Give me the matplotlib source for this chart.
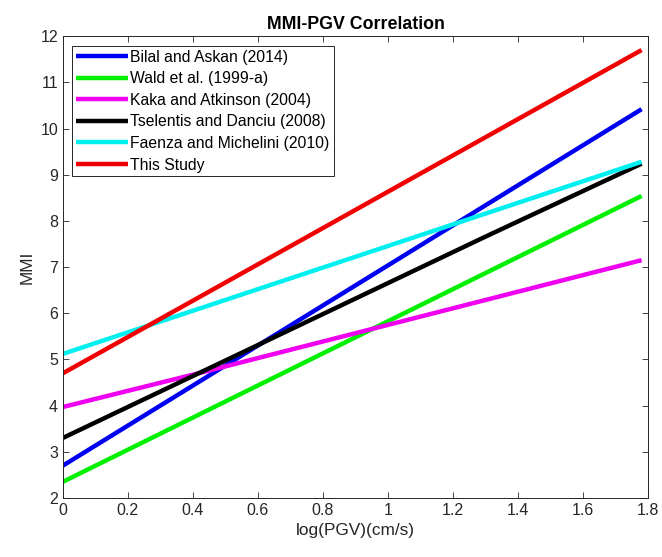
import numpy as np
import matplotlib
matplotlib.use('Agg')
import matplotlib.pyplot as plt

plt.rcParams['font.family'] = ['Liberation Sans', 'DejaVu Sans']

# values (log PGV vs MMI)
labels = ['Bilal and Askan (2014)', 'Wald et al. (1999-a)', 'Kaka and Atkinson (2004)',
          'Tselentis and Danciu (2008)', 'Faenza and Michelini (2010)', 'This Study']
colors = ['#0000f0', '#00f000', '#f000f0', '#000000', '#00f0f0', '#f00000']

x_bilal = [0, 1.78]
y_bilal = [2.70, 10.42]
x_wald = [0, 1.78]
y_wald = [2.35, 8.54]
x_kaka = [0, 0.4, 1.78]
y_kaka = [3.97, 4.67, 7.15]
x_tsel = [0, 1.3, 1.78]
y_tsel = [3.30, 7.66, 9.24]
x_faenza = [0, 1.78]
y_faenza = [5.12, 9.28]
x_study = [0, 1.78]
y_study = [4.70, 11.70]

xs = [x_bilal, x_wald, x_kaka, x_tsel, x_faenza, x_study]
ys = [y_bilal, y_wald, y_kaka, y_tsel, y_faenza, y_study]

fig = plt.figure(figsize=(6.62, 5.57), dpi=100)
ax = fig.add_axes([0.095, 0.106, 0.884, 0.829])

for x, y, c, lab in zip(xs, ys, colors, labels):
    ax.plot(x, y, color=c, lw=3.2, label=lab, solid_capstyle='butt')

ax.set_xlim(0, 1.8)
ax.set_ylim(2, 12)
ax.set_xticks(np.arange(0, 1.81, 0.2))
ax.set_xticklabels(['0', '0.2', '0.4', '0.6', '0.8', '1', '1.2', '1.4', '1.6', '1.8'])
ax.set_yticks(range(2, 13))
ax.tick_params(direction='in', top=True, right=True, labelsize=11.5,
               colors='#262626', length=4, width=0.6)
for s in ax.spines.values():
    s.set_color('#262626')
    s.set_linewidth(0.7)

ax.set_title('MMI-PGV Correlation', fontsize=12.8, fontweight='bold', pad=5)
ax.set_xlabel('log(PGV)(cm/s)', fontsize=12.4, color='#262626')
ax.set_ylabel('MMI', fontsize=12.4, color='#262626')

leg = ax.legend(loc='upper left', fontsize=11.3, fancybox=False, framealpha=1,
                edgecolor='#262626', handlelength=3.3, handletextpad=0.15,
                labelspacing=0.42, borderaxespad=0.6, borderpad=0.25)
leg.get_frame().set_linewidth(0.7)

fig.savefig('out.png', dpi=100)
